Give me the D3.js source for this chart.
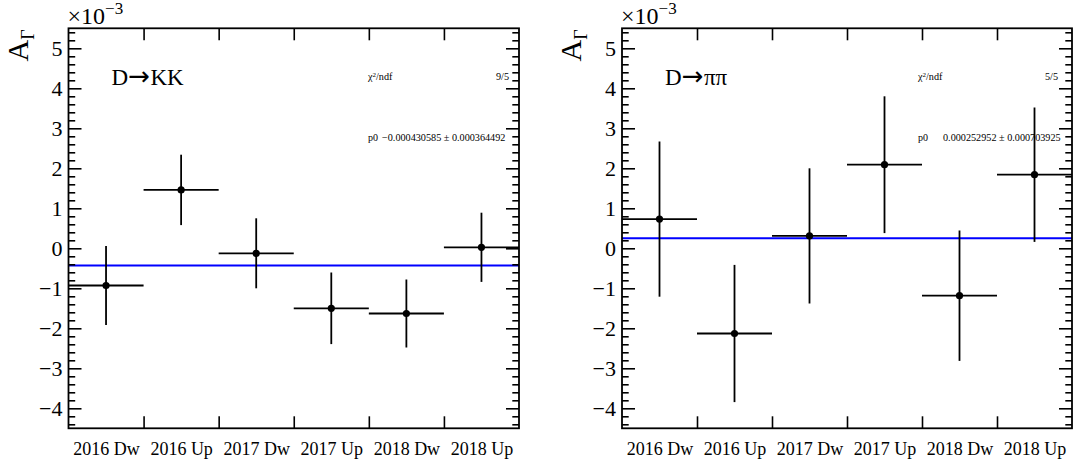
<!DOCTYPE html>
<html>
<head>
<meta charset="utf-8">
<script src="https://cdn.jsdelivr.net/npm/d3@7"></script>
<style>
  html, body { margin: 0; padding: 0; background: #fff; }
  svg { display: block; font-family: "Liberation Serif", "DejaVu Serif", serif; }
</style>
</head>
<body>
<svg id="chart" width="1075" height="467"></svg>
<script>
// Bin labels (data-taking periods)
const categories = ["2016 Dw", "2016 Up", "2017 Dw", "2017 Up", "2018 Dw", "2018 Up"];

// A_Gamma per bin, in units of 1e-3
const kkValues   = [-0.93, 1.46, -0.125, -1.50, -1.63, 0.025];
const kkErrors   = [0.99, 0.88, 0.875, 0.895, 0.85, 0.865];
const pipiValues = [0.73, -2.13, 0.31, 2.09, -1.185, 1.84];
const pipiErrors = [1.94, 1.715, 1.69, 1.71, 1.63, 1.68];

// Constant fit results (raw values)
const kkFit   = { p0: -0.000430585, err: 0.000364492, chi2ndf: "9/5" };
const pipiFit = { p0: 0.000252952,  err: 0.000703925, chi2ndf: "5/5" };

// Axis ticks
const yDomain = [-4.5, 5.5];
const yTicks = [-4, -3, -2, -1, 0, 1, 2, 3, 4, 5];
const yMinorTicks = d3.range(-44, 56, 2).map(v => v / 10).filter(v => !yTicks.includes(v));

const panels = [
  { mother: "D", daughters: "KK", values: kkValues, errors: kkErrors, fit: kkFit,
    x0: 68.5, x1: 519, statX: 368, statEnd: 509, valueX: 382 },
  { mother: "D", daughters: "\u03C0\u03C0", values: pipiValues, errors: pipiErrors, fit: pipiFit,
    x0: 622, x1: 1072, statX: 918, statEnd: 1058, valueX: 943 }
];

const frameTop = 28.3, frameBottom = 428.3;
const svg = d3.select("#chart");
const fmt = v => (v < 0 ? "\u2212" : "") + Math.abs(v).toFixed(9).replace(/0+$/, "");

panels.forEach(p => {
  const g = svg.append("g");
  const x = d3.scaleLinear().domain([0, categories.length]).range([p.x0, p.x1]);
  const y = d3.scaleLinear().domain(yDomain).range([frameBottom, frameTop]);

  // Fit line
  g.append("line")
    .attr("x1", x(0)).attr("x2", x(categories.length))
    .attr("y1", y(p.fit.p0 * 1e3)).attr("y2", y(p.fit.p0 * 1e3))
    .attr("stroke", "#0000ff").attr("stroke-width", 2);

  // Error bars and markers
  const pts = g.selectAll("g.pt").data(p.values.map((v, i) => ({ v, e: p.errors[i], i })))
    .enter().append("g").attr("class", "pt");
  pts.append("line")
    .attr("x1", d => x(d.i)).attr("x2", d => x(d.i + 1))
    .attr("y1", d => y(d.v)).attr("y2", d => y(d.v))
    .attr("stroke", "#000").attr("stroke-width", 1.8);
  pts.append("line")
    .attr("x1", d => x(d.i + 0.5)).attr("x2", d => x(d.i + 0.5))
    .attr("y1", d => y(d.v + d.e)).attr("y2", d => y(d.v - d.e))
    .attr("stroke", "#000").attr("stroke-width", 1.8);
  pts.append("circle")
    .attr("cx", d => x(d.i + 0.5)).attr("cy", d => y(d.v)).attr("r", 3.6)
    .attr("fill", "#000");

  const styleAxis = sel => {
    sel.select(".domain").remove();
    sel.selectAll("line").attr("stroke", "#000").attr("stroke-width", 1.6);
  };

  // Left axis: major ticks with labels, minor ticks
  g.append("g").attr("transform", `translate(${p.x0},0)`)
    .call(d3.axisLeft(y).tickValues(yTicks).tickSize(-13).tickPadding(6)
      .tickFormat(v => v < 0 ? "\u2212" + Math.abs(v) : String(v)))
    .call(styleAxis)
    .call(s => s.selectAll("text").attr("font-size", 22).attr("font-family", "Liberation Serif")
      .attr("fill", "#000").attr("dy", "0.33em"));
  g.append("g").attr("transform", `translate(${p.x0},0)`)
    .call(d3.axisLeft(y).tickValues(yMinorTicks).tickSize(-6.7).tickFormat(""))
    .call(styleAxis);

  // Right axis mirror ticks
  g.append("g").attr("transform", `translate(${p.x1},0)`)
    .call(d3.axisRight(y).tickValues(yTicks).tickSize(-13).tickFormat(""))
    .call(styleAxis);
  g.append("g").attr("transform", `translate(${p.x1},0)`)
    .call(d3.axisRight(y).tickValues(yMinorTicks).tickSize(-6.7).tickFormat(""))
    .call(styleAxis);

  // Bottom and top ticks at bin edges
  const edges = d3.range(1, categories.length);
  g.append("g").attr("transform", `translate(0,${frameBottom})`)
    .call(d3.axisBottom(x).tickValues(edges).tickSize(-12).tickFormat(""))
    .call(styleAxis);
  g.append("g").attr("transform", `translate(0,${frameTop})`)
    .call(d3.axisTop(x).tickValues(edges).tickSize(-12).tickFormat(""))
    .call(styleAxis);

  // Bin labels
  g.append("g").attr("transform", `translate(0,${frameBottom})`)
    .call(d3.axisBottom(x).tickValues(categories.map((c, i) => i + 0.5)).tickSize(0).tickPadding(14)
      .tickFormat((v, i) => categories[i]))
    .call(s => s.select(".domain").remove())
    .call(s => s.selectAll("text").attr("font-size", 18).attr("font-family", "Liberation Serif")
      .attr("fill", "#000"));

  // Frame
  g.append("rect")
    .attr("x", p.x0).attr("y", frameTop)
    .attr("width", p.x1 - p.x0).attr("height", frameBottom - frameTop)
    .attr("fill", "none").attr("stroke", "#000").attr("stroke-width", 1.8);

  // Exponent label
  const ex = g.append("text").attr("x", p.x0 - 1).attr("y", 24)
    .attr("font-size", 24).attr("fill", "#000");
  ex.append("tspan").text("\u00D710");
  ex.append("tspan").attr("dy", -10).attr("font-size", 17).text("\u22123");

  // Y axis title A_Gamma
  const yt = g.append("text")
    .attr("transform", `translate(${p.x0 - 41},${frameTop + 1}) rotate(-90)`)
    .attr("text-anchor", "end").attr("font-size", 30).attr("fill", "#000");
  yt.append("tspan").text("A");
  yt.append("tspan").attr("dy", 6).attr("font-size", 18).text("\u0393");

  // Channel title: D -> final state
  const title = g.append("text").attr("x", p.x0 + 43).attr("y", 85)
    .attr("font-size", 23).attr("fill", "#000");
  title.append("tspan").text(p.mother);
  title.append("tspan").attr("font-family", "DejaVu Sans").attr("font-size", 26)
    .text("\u2192");
  title.append("tspan").attr("dx", 0.5).text(p.daughters);

  // Fit statistics
  const chi = g.append("text").attr("x", p.statX).attr("y", 80)
    .attr("font-size", 10.2).attr("fill", "#000");
  chi.append("tspan").text("\u03C7");
  chi.append("tspan").attr("dy", -3).attr("font-size", 7).text("2");
  chi.append("tspan").attr("dy", 3).text("/ndf");
  g.append("text").attr("x", p.statEnd).attr("y", 80).attr("text-anchor", "end")
    .attr("font-size", 10.2).attr("fill", "#000").text(p.fit.chi2ndf);
  g.append("text").attr("x", p.statX).attr("y", 141)
    .attr("font-size", 10).attr("fill", "#000").text("p0");
  g.append("text").attr("x", p.valueX).attr("y", 141)
    .attr("font-size", 10.2).attr("fill", "#000")
    .text(`${fmt(p.fit.p0)} \u00B1 ${fmt(p.fit.err)}`);
});
</script>
</body>
</html>
